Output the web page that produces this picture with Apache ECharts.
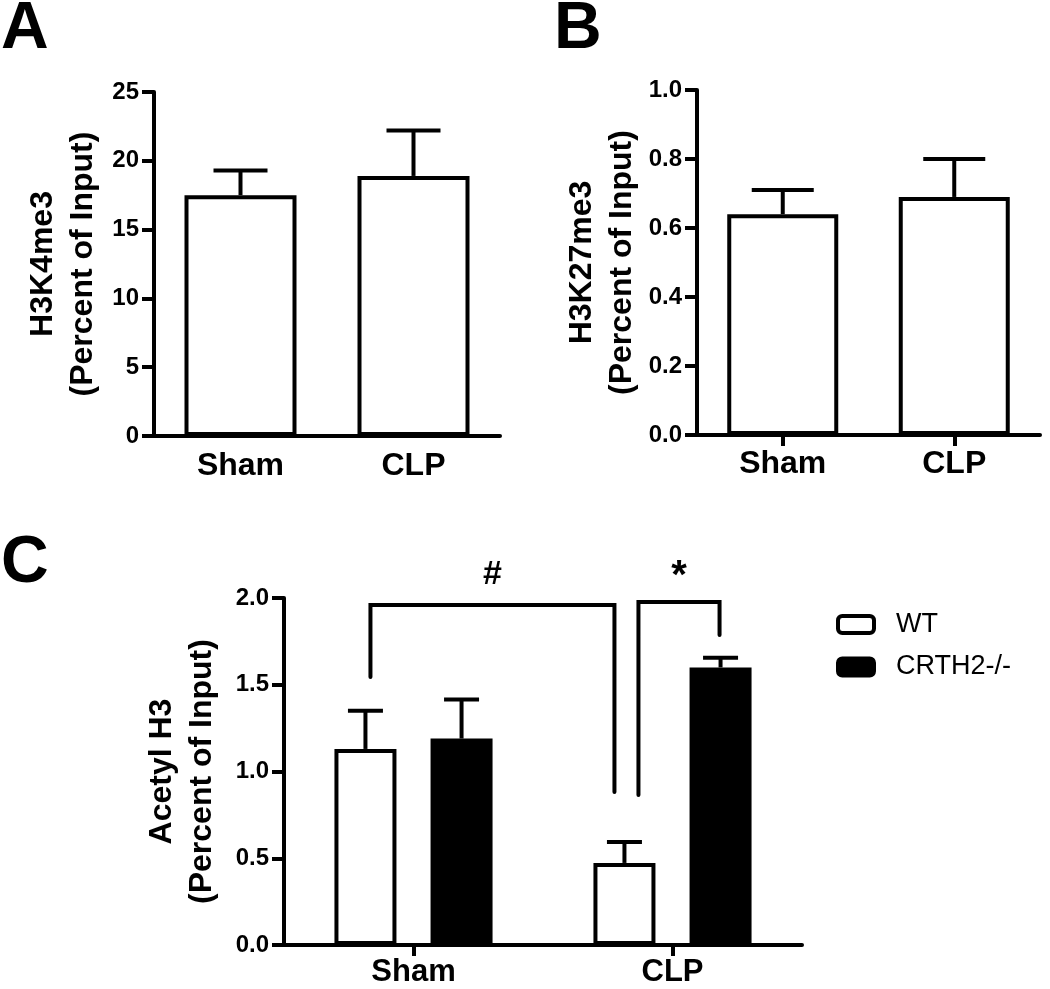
<!DOCTYPE html>
<html>
<head>
<meta charset="utf-8">
<script src="https://cdn.jsdelivr.net/npm/echarts@6/dist/echarts.min.js"></script>
<style>
html,body{margin:0;padding:0;background:#ffffff;}
#chart{width:1050px;height:989px;}
</style>
</head>
<body>
<div id="chart"></div>
<script>
// ---------------- data ----------------
const categories = ['Sham', 'CLP'];
const seriesNames = ['WT', 'CRTH2-/-'];

const h3k4me3Mean = [17.5, 18.9];
const h3k4me3Err = [1.8, 3.3];

const h3k27me3Mean = [0.64, 0.69];
const h3k27me3Err = [0.07, 0.11];

const acetylWTMean = [1.13, 0.473];
const acetylWTErr = [0.22, 0.12];
const acetylKOMean = [1.19, 1.60];
const acetylKOErr = [0.225, 0.055];

// [min, max, interval]
const axisRangeA = [0, 25, 5];
const axisRangeB = [0, 1.0, 0.2];
const axisRangeC = [0, 2.0, 0.5];

const panelLetters = ['A', 'B', 'C'];
const yAxisNames = [
  'H3K4me3\n(Percent of Input)',
  'H3K27me3\n(Percent of Input)',
  'Acetyl H3\n(Percent of Input)'
];

// significance brackets (panel C): [category index, series index]
const bracketMarks = ['#', '*'];
const bracketStart = [[0, 0], [1, 0]];
const bracketEnd = [[1, 0], [1, 1]];
const bracketTop = [1.96, 1.977];
const bracketStartFoot = [1.545, 0.865];
const bracketEndFoot = [0.882, 1.787];

// ---------------- style ----------------
const FONT = "'Liberation Sans', Arial, Helvetica, sans-serif";
const BLACK = '#000000';
const barWidths = [112, 111, 62];
const capHalf = [27, 31, 17.5];
const barGapC = 0.55;
const offsetC = (barWidths[2] + barWidths[2] * barGapC) / 2;
const legNudge = [[5, -10], [14, -1]];
const markDy = [-30, -25];
const markSize = [34, 40];

function yAxisFor(idx, range, decimals, nameGap) {
  return {
    type: 'value', gridIndex: idx,
    min: range[0], max: range[1], interval: range[2],
    name: yAxisNames[idx], nameLocation: 'middle', nameGap: nameGap, nameRotate: 90,
    nameTextStyle: { fontFamily: FONT, fontWeight: 'bold', fontSize: 32, lineHeight: 40, color: BLACK },
    axisLine: { show: true, lineStyle: { color: BLACK, width: 4 } },
    axisTick: { show: true, length: 12, lineStyle: { color: BLACK, width: 4 } },
    axisLabel: { fontFamily: FONT, fontWeight: 'bold', fontSize: 24, color: BLACK, margin: 15,
      formatter: function (v) { return v.toFixed(decimals); } },
    splitLine: { show: false }
  };
}

function xAxisFor(idx, showTick, margin, fontSize) {
  return {
    type: 'category', gridIndex: idx, data: categories, boundaryGap: true,
    axisLine: { show: true, onZero: false, lineStyle: { color: BLACK, width: 4 } },
    axisTick: { show: showTick, alignWithLabel: true, length: 11, lineStyle: { color: BLACK, width: 4 } },
    axisLabel: { fontFamily: FONT, fontWeight: 'bold', fontSize: fontSize, color: BLACK, margin: margin },
    splitLine: { show: false }
  };
}

function errorSeries(axisIdx, means, errs, offset, half) {
  return {
    type: 'custom', xAxisIndex: axisIdx, yAxisIndex: axisIdx, z: 5, silent: true,
    data: means.map(function (m, i) { return [i, m, errs[i]]; }),
    encode: { x: 0, y: 1 },
    renderItem: function (params, api) {
      const i = api.value(0), m = api.value(1), e = api.value(2);
      const base = api.coord([i, m]);
      const top = api.coord([i, m + e]);
      const x = base[0] + offset;
      const st = { stroke: BLACK, lineWidth: 4, fill: null };
      return { type: 'group', children: [
        { type: 'line', shape: { x1: x, y1: base[1], x2: x, y2: top[1] }, style: st },
        { type: 'line', shape: { x1: x - half, y1: top[1], x2: x + half, y2: top[1] }, style: st }
      ] };
    }
  };
}

function barOffset(s) { return s === 0 ? -offsetC : offsetC; }

const bracketSeries = {
  type: 'custom', xAxisIndex: 2, yAxisIndex: 2, z: 6, silent: true,
  data: bracketMarks.map(function (m, k) { return [bracketStart[k][0], bracketTop[k]]; }),
  encode: { x: 0, y: 1 },
  renderItem: function (params, api) {
    const k = params.dataIndex;
    const s = bracketStart[k], e = bracketEnd[k];
    const pTopL = api.coord([s[0], bracketTop[k]]);
    const pTopR = api.coord([e[0], bracketTop[k]]);
    const pFootL = api.coord([s[0], bracketStartFoot[k]]);
    const pFootR = api.coord([e[0], bracketEndFoot[k]]);
    const xl = pTopL[0] + barOffset(s[1]) + legNudge[k][0];
    const xr = pTopR[0] + barOffset(e[1]) + legNudge[k][1];
    return { type: 'group', children: [
      { type: 'polyline',
        shape: { points: [[xl, pFootL[1]], [xl, pTopL[1]], [xr, pTopR[1]], [xr, pFootR[1]]] },
        style: { stroke: BLACK, lineWidth: 4, fill: null, lineCap: 'round', lineJoin: 'miter' } },
      { type: 'text', x: (xl + xr) / 2, y: pTopL[1] + markDy[k],
        style: { text: bracketMarks[k], fontFamily: FONT, fontWeight: 'bold', fontSize: markSize[k],
          fill: BLACK, align: 'center', verticalAlign: 'middle' } }
    ] };
  }
};

const whiteBar = { color: '#ffffff', borderColor: BLACK, borderWidth: 4 };
const blackBar = { color: BLACK, borderColor: BLACK, borderWidth: 4 };

const option = {
  animation: false,
  backgroundColor: '#ffffff',
  title: panelLetters.map(function (t, i) {
    return { text: t, left: [1, 554, 1][i], top: [-3, -3, 531][i], padding: 0,
      textStyle: { fontFamily: FONT, fontWeight: 'bold', fontSize: 66, color: BLACK } };
  }),
  legend: {
    data: [
      { name: seriesNames[0], itemStyle: whiteBar },
      { name: seriesNames[1], itemStyle: blackBar }
    ],
    orient: 'vertical', left: 831, top: 606, padding: 5,
    itemWidth: 36, itemHeight: 17, itemGap: 15.5, icon: 'roundRect', selectedMode: false,
    textStyle: { fontFamily: FONT, fontSize: 27, color: BLACK, lineHeight: 24, padding: [0, 0, 0, 17] }
  },
  grid: [
    { left: 154, top: 92, width: 346, height: 344 },
    { left: 697, top: 90, width: 343, height: 345 },
    { left: 284, top: 598, width: 518, height: 347 }
  ],
  xAxis: [
    xAxisFor(0, false, 14, 32),
    xAxisFor(1, true, 13, 32),
    xAxisFor(2, true, 12, 31)
  ],
  yAxis: [
    yAxisFor(0, axisRangeA, 0, 51),
    yAxisFor(1, axisRangeB, 1, 55),
    yAxisFor(2, axisRangeC, 1, 62)
  ],
  series: [
    { type: 'bar', xAxisIndex: 0, yAxisIndex: 0, data: h3k4me3Mean, barWidth: barWidths[0],
      itemStyle: whiteBar, silent: true },
    errorSeries(0, h3k4me3Mean, h3k4me3Err, 0, capHalf[0]),
    { type: 'bar', xAxisIndex: 1, yAxisIndex: 1, data: h3k27me3Mean, barWidth: barWidths[1],
      itemStyle: whiteBar, silent: true },
    errorSeries(1, h3k27me3Mean, h3k27me3Err, 0, capHalf[1]),
    { type: 'bar', name: seriesNames[0], xAxisIndex: 2, yAxisIndex: 2, data: acetylWTMean,
      barWidth: barWidths[2], barGap: (barGapC * 100) + '%', itemStyle: whiteBar, silent: true },
    { type: 'bar', name: seriesNames[1], xAxisIndex: 2, yAxisIndex: 2, data: acetylKOMean,
      barWidth: barWidths[2], barGap: (barGapC * 100) + '%', itemStyle: blackBar, silent: true },
    errorSeries(2, acetylWTMean, acetylWTErr, -offsetC, capHalf[2]),
    errorSeries(2, acetylKOMean, acetylKOErr, offsetC, capHalf[2]),
    bracketSeries
  ]
};

const chart = echarts.init(document.getElementById('chart'), null, { renderer: 'canvas', width: 1050, height: 989 });
chart.setOption(option);
</script>
</body>
</html>
